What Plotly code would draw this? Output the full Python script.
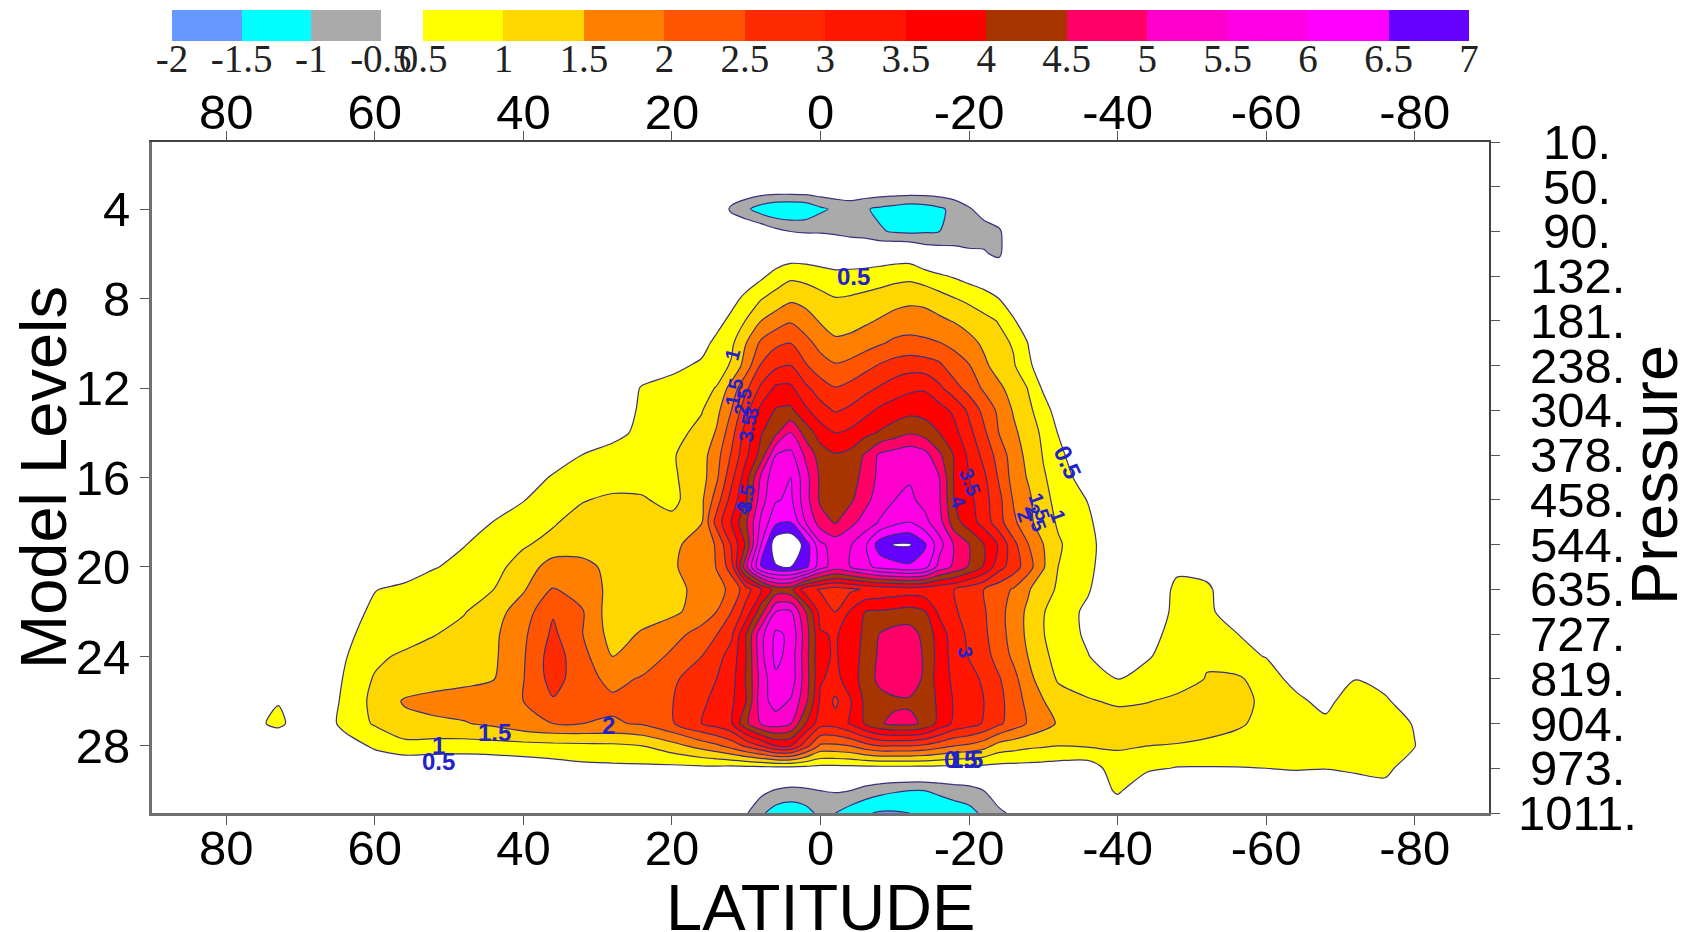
import plotly.graph_objects as go

# ---- data ----
latitudes = [90,76,73,68,64,60,56,52,48,44,40,36,32,28,24,20,
             16,14,12,10,8,6,4,2,0,
             -2,-4,-6,-8,-10,-12,-14,-16,-18,-20,-22,-24,-26,-28,-30,-32,
             -36,-40,-44,-48,-52,-56,-60,-64,-68,-72,-76,-80,-84,-90]
model_levels = list(range(1, 32))
N = len(latitudes)

Z16 = [0]*16; Z14 = [0]*14
L01 = [0]*N
L02 = [0]*N
L03 = [0]*N
L04 = Z16+[0,0,-.6,-.9,-1.25,-1.45,-1.48,-1.4,-1.1]+[-.9,-.8,-.95,-1.1,-1.2,-1.3,-1.25,-1.1,-.85,-.55,-.3,0,0,0,0,0]+Z14
L05 = Z16+[0,0,0,0,-.1,-.35,-.5,-.55,-.55]+[-.6,-.7,-.75,-.95,-1.05,-1.1,-1.05,-1.0,-.85,-.8,-.7,-.6,0,0,0,0]+Z14
L06 = Z16+[0,0,0,0,0,.1,.2,.2,.15]+[.1,.1,.1,.15,.2,.2,-.1,-.2,-.3,-.4,-.45,-.6,0,0,0,0]+Z14
L07 = Z16+[0,0,0,.15,.4,.7,.9,.85,.75]+[.66,.68,.72,.78,.85,.88,.75,.58,.45,.3,.2,0,0,0,0,0]+Z14
L08 = Z16+[0,0,.3,.65,.97,1.2,1.4,1.3,1.15]+[1.02,1.05,1.12,1.2,1.3,1.38,1.35,1.2,1.02,.88,.7,.5,.2,0,0,0]+Z14
L09 = Z16+[0,.3,.65,1.03,1.5,1.75,1.95,1.75,1.45]+[1.28,1.32,1.42,1.55,1.7,1.75,1.72,1.6,1.47,1.32,1.15,.97,.55,.2,0,0]+Z14
L10 = Z16+[.3,.65,.9,1.5,2.1,2.4,2.5,2.15,1.85]+[1.6,1.65,1.8,1.95,2.1,2.15,2.1,2.02,1.9,1.65,1.42,1.15,.95,.48,.15,0]+Z14
L11 = [0]*14+[.15,.35]+[.6,.8,1.05,1.75,2.55,2.9,3.0,2.55,2.2]+[2.05,2.15,2.35,2.55,2.72,2.8,2.75,2.6,2.2,2.03,1.6,1.3,1.05,.6,.2,0]+Z14
L12 = [0]*14+[.55,.72]+[.88,1.02,1.7,2.4,3.1,3.6,3.6,3.1,2.75]+[2.52,2.65,2.85,3.05,3.25,3.4,3.45,3.1,2.7,2.3,1.92,1.6,1.3,.97,.42,.1]+Z14
L13 = [0]*13+[.2,.58,.75]+[.97,1.35,2.0,2.85,3.65,4.05,4.1,3.6,3.2]+[2.95,3.1,3.35,3.6,3.75,3.85,3.8,3.7,3.4,2.9,2.35,1.9,1.45,1.1,.75,.25]+Z14
L14 = [0]*13+[.35,.62,.82]+[1.15,1.55,2.3,3.25,3.95,4.4,5.0,4.3,3.75]+[3.5,3.6,3.85,4.05,4.25,4.45,4.3,4.0,3.65,3.15,2.6,2.0,1.6,1.25,.9,.48]+Z14
L15 = [0]*12+[.52,.68,.82,.95]+[1.3,1.8,2.55,3.4,4.2,5.5,5.65,4.9,4.25]+[4.05,4.15,4.55,5.1,5.25,5.35,5.2,4.6,3.95,3.4,2.85,2.3,1.75,1.35,.97,.65]+Z14
L16 = [0]*11+[.6,.7,.75,.82,.92]+[1.3,1.9,2.85,3.8,5.1,5.9,6.0,5.2,4.4]+[4.15,4.3,4.65,5.15,5.3,5.45,5.3,5.0,3.95,3.5,3.1,2.45,1.8,1.45,1.05,.8]+[.2]+[0]*13
L17 = [0]*10+[.48,.75,.97,1.1,1.05,.85]+[1.4,2.25,3.2,3.95,5.3,5.95,6.1,5.2,4.4]+[4.2,4.4,4.85,5.25,5.5,5.6,5.35,5.05,4.0,3.65,3.2,2.65,1.95,1.6,1.15,.85]+[.48]+[0]*13
L18 = [0]*8+[.2,.52,.7,.95,1.2,1.28,1.25,1.15]+[1.48,2.7,3.55,4.45,5.6,6.4,6.5,5.5,4.75]+[4.45,4.85,5.2,5.55,5.85,6.0,5.65,5.2,4.2,3.75,3.3,2.7,2.1,1.65,1.2,.95]+[.6]+[0]*13
L19 = [0]*7+[.25,.48,.7,.95,1.15,1.35,1.4,1.35,1.4]+[1.7,2.05,3.05,4.1,6.0,7.4,7.5,6.8,5.6]+[5.3,5.45,5.9,6.8,7.05,7.05,6.6,5.7,4.95,4.5,4.0,3.45,2.65,2.0,1.5,1.05]+[.7]+[0]*13
L20 = [0]*6+[.2,.47,.65,.85,1.2,1.75,1.6,1.4,1.35,1.45]+[1.7,2.02,2.75,4.9,6.55,6.95,7.0,6.65,5.7]+[5.25,5.5,5.85,6.15,6.3,6.4,6.2,5.3,4.9,4.45,3.95,3.2,2.75,2.2,1.55,1.0]+[.65,0,0,.4,.3]+[0]*9
L21 = [0]*4+[.2,.48,.62,.78,.9,1.0,1.45,2.03,1.8,1.35,1.35,1.4]+[1.6,1.85,2.1,2.8,3.45,4.2,4.15,3.2,2.95]+[2.8,2.9,3.05,3.15,3.2,3.25,3.2,3.1,3.0,2.75,2.5,2.2,1.95,1.55,1.15,.95]+[.55,0,.05,.62,.6,.1]+[0]*8
L22 = [0]*4+[.25,.62,.72,.82,.97,1.3,1.75,2.45,2.03,1.2,1.3,1.4]+[1.7,2.0,2.5,3.2,4.3,5.5,5.55,4.5,3.3]+[3.0,3.55,4.0,4.05,4.12,4.18,4.05,3.4,3.05,2.85,2.55,2.2,1.75,1.4,1.03,.75]+[.4,0,.1,.65,.62,.2]+[0]*8
L23 = [0]*4+[.42,.65,.75,.98,1.15,1.4,1.9,2.6,2.0,1.3,1.55,1.8]+[2.2,2.48,2.9,4.0,5.35,6.1,5.9,4.75,3.55]+[3.45,3.7,4.1,4.52,4.7,4.72,4.35,3.75,3.25,2.9,2.6,2.2,1.8,1.38,1.02,.75]+[.42,0,.3,.7,.78,.52,.1]+[0]*7
L24 = [0]*4+[.47,.88,1.1,1.2,1.3,1.42,1.95,2.75,2.15,1.5,1.7,2.1]+[2.5,2.82,3.2,4.0,5.35,6.15,5.8,4.7,3.6]+[3.45,3.75,4.15,4.6,4.85,4.9,4.42,3.8,3.3,2.97,2.7,2.3,1.9,1.48,1.1,.85]+[.52,.2,.45,.75,.95,.65,.48]+[0]*7
L25 = [0]*4+[.55,1.05,1.2,1.3,1.38,1.48,1.98,2.7,2.2,1.85,2.05,2.4]+[2.8,3.0,3.3,4.05,5.2,5.9,5.8,4.75,3.55]+[3.35,3.75,4.2,4.65,4.85,4.85,4.4,3.75,3.4,3.2,2.9,2.55,2.15,1.65,1.25,.95]+[.75,.48,.7,.8,1.02,1.08,.78,.3,0,.48,.2,0,0,0]
L26 = [0,.25,.47,.1,.6,1.15,1.55,1.65,1.7,1.8,2.0,2.45,2.25,2.1,2.35,2.48]+[2.9,3.15,3.4,4.0,5.3,5.7,5.45,4.65,3.4]+[2.9,3.45,4.1,4.3,4.4,4.42,4.3,3.9,3.45,3.2,3.0,2.65,2.25,1.85,1.52,1.2]+[1.05,.92,.98,1.1,1.2,1.15,.9,.65,.3,.9,.62,0,0,0]
L27 = [0,.4,.62,0,.7,1.05,1.35,1.42,1.47,1.6,1.85,2.0,2.0,1.95,2.05,2.45]+[3.0,3.2,3.45,4.4,5.05,5.25,5.0,4.0,3.2]+[3.2,3.55,4.05,4.45,4.62,4.62,4.4,3.85,3.4,3.2,2.95,2.6,2.25,1.95,1.7,1.45]+[1.3,1.25,1.25,1.25,1.2,1.08,.85,.7,.65,.95,.85,.45,0,0]
L28 = [0,0,0,0,.2,.6,.85,.8,.78,.8,.82,.85,.88,.9,1.0,1.3]+[1.7,1.9,2.2,2.6,3.0,3.5,3.5,2.7,1.9]+[1.9,2.0,2.3,2.5,2.5,2.5,2.4,2.2,2.0,1.9,1.7,1.3,1.2,1.1,1.05,1.0]+[1.05,1.05,1.0,.97,.9,.8,.8,.75,.75,.75,.72,.52,0,0]
L29 = [0]*9+[.05,.15,.25,.35,.38,.38,.35]+[.35,.35,.3,.3,.3,.3,.3,.3,.3]+[.3]*14+[.28,.25]+[.2,.8,.6,.47,.47,.48,.5,.55,.52,.65,.72,0,0,0]
L30 = Z16+[0,0,0,-.1,-.35,-.55,-.65,-.6,-.5]+[-.45,-.5,-.7,-.85,-.95,-1.0,-1.0,-.9,-.8,-.72,-.5,-.2,0,0,0,0]+[0,.6,0,0,0,0,0,0,0,0,.2,0,0,0]
L31 = Z16+[0,0,0,-.45,-.9,-1.25,-1.35,-1.2,-.85]+[-1.0,-1.25,-1.45,-1.55,-1.55,-1.5,-1.4,-1.35,-1.25,-1.15,-.9,-.6,-.4,0,0,0]+Z14
field = [L01,L02,L03,L04,L05,L06,L07,L08,L09,L10,L11,L12,L13,L14,L15,L16,
         L17,L18,L19,L20,L21,L22,L23,L24,L25,L26,L27,L28,L29,L30,L31]
for i, r in enumerate(field):
    assert len(r) == N, (i + 1, len(r))
field_neg = [[-v for v in r] for r in field]

lat_ticks = [80,60,40,20,0,-20,-40,-60,-80]
level_ticks = [4,8,12,16,20,24,28]
pressure_levels = list(range(1, 32, 2))
pressure_labels = ["10.","50.","90.","132.","181.","238.","304.","378.","458.","544.",
                   "635.","727.","819.","904.","973.","1011."]
neg_levels = [-2,-1.5,-1,-0.5]
neg_labels = ["-2","-1.5","-1","-0.5"]
neg_colors = ["#6699ff","#00ffff","#aaaaaa"]
pos_levels = [0.5,1,1.5,2,2.5,3,3.5,4,4.5,5,5.5,6,6.5,7]
pos_labels = ["0.5","1","1.5","2","2.5","3","3.5","4","4.5","5","5.5","6","6.5","7"]
pos_colors = ["#ffff00","#ffd700","#ff8000","#ff5500","#ff2b00","#ff1500","#ff0000",
              "#a83400","#ff0066","#ff00cc","#ff00e6","#ff00ff","#6600ff"]
# contour labels: text, latitude, level, angle
label_text = ["0.5","1","1.5","2.5","3","3.5","3.5","4","3.5","4","1.5","2","1","2.5","0.5","3","2","1.5","1","0.5","0.5","1.5"]
label_lat  = [-4.5,11.8,11.7,10.4,9.4,9.8,10.1,10.5,-20.1,-18.5,-29.5,-27.6,-32,-29,-33.2,-19.5,28.6,43.9,51.4,51.4,-18.9,-19.6]
label_lev  = [7,10.5,12.2,12.6,13.1,13.8,16.9,17.4,16.2,17.1,17.3,17.7,17.7,17.8,15.3,23.8,27.1,27.4,28,28.7,28.6,28.6]
label_ang  = [0,-75,-80,-80,-80,-80,-80,-80,70,70,70,70,70,70,65,80,0,0,0,0,0,0]

W, H = 1688, 932
BOX = (152, 1489, 142, 813)
def px(x): return x / W
def py(y): return 1 - y / H
AXC = "#555555"; THICK = "#707070"; LINE = "#3a3080"; BLUE = "#2222cc"
SANS = "Liberation Sans"; SERIF = "Liberation Serif"

def stepped(cols):
    n = len(cols) - 1
    return [[i / n, c] for i, c in enumerate(cols)]

fig = go.Figure()
fig.add_trace(go.Contour(
    x=latitudes, y=model_levels, z=field, showscale=False, hoverinfo="skip",
    autocontour=False,
    contours=dict(start=0.5, end=7, size=0.5, coloring="fill", showlines=True),
    colorscale=stepped(["#ffffff"] + pos_colors + ["#ffffff"]),
    line=dict(color=LINE, width=1.2, smoothing=0.8)))
fig.add_trace(go.Contour(
    x=latitudes, y=model_levels, z=field_neg, showscale=False, hoverinfo="skip",
    autocontour=False,
    contours=dict(start=0.5, end=2, size=0.5, coloring="fill", showlines=True),
    colorscale=stepped(["rgba(255,255,255,0)", neg_colors[2], neg_colors[1], neg_colors[0], neg_colors[0]]),
    line=dict(color=LINE, width=1.2, smoothing=0.8)))
fig.add_trace(go.Scatter(x=[0], y=[1], xaxis="x2", yaxis="y2", mode="markers",
                         marker=dict(opacity=0), hoverinfo="skip", showlegend=False))
fig.add_trace(go.Heatmap(x=neg_levels, y=[0, 1], z=[list(range(len(neg_colors)))],
                         xaxis="x3", yaxis="y3", showscale=False, hoverinfo="skip",
                         colorscale=stepped(neg_colors), zmin=0, zmax=len(neg_colors)-1))
fig.add_trace(go.Heatmap(x=pos_levels, y=[0, 1], z=[list(range(len(pos_colors)))],
                         xaxis="x4", yaxis="y3", showscale=False, hoverinfo="skip",
                         colorscale=stepped(pos_colors), zmin=0, zmax=len(pos_colors)-1))

tick_font = dict(family=SANS, size=49, color="#000")
bar_font = dict(family=SERIF, size=39, color="#222")
title_font = dict(family=SANS, size=65, color="#000")
dom_x = [px(BOX[0]), px(BOX[1])]
dom_y = [py(BOX[3]), py(BOX[2])]
common = dict(showline=True, ticks="outside", ticklen=9, tickcolor=AXC,
              showgrid=False, zeroline=False, tickfont=tick_font)
thick = dict(linecolor=THICK, linewidth=3)
thin = dict(linecolor="#444444", linewidth=1.5)

ann = []
for lev, txt in zip(pressure_levels, pressure_labels):
    ann.append(dict(x=px(1577), xref="paper", y=lev, yref="y", text=txt, showarrow=False,
                    xanchor="center", yanchor="middle", font=tick_font))
for t, la, le, an in zip(label_text, label_lat, label_lev, label_ang):
    size = 24 if an == 0 or an == 65 else 20
    ann.append(dict(x=la, y=le, xref="x", yref="y", text=f"<b>{t}</b>", textangle=an,
                    showarrow=False, font=dict(family=SANS, size=size, color=BLUE)))
ann.append(dict(x=px(820), y=py(907), xref="paper", yref="paper", text="LATITUDE", showarrow=False,
                xanchor="center", yanchor="middle", font=title_font))
ann.append(dict(x=px(43), y=py(478), xref="paper", yref="paper", text="Model Levels", textangle=-90,
                showarrow=False, xanchor="center", yanchor="middle", font=title_font))
ann.append(dict(x=px(1654), y=py(475), xref="paper", yref="paper", text="Pressure", textangle=-90,
                showarrow=False, xanchor="center", yanchor="middle", font=title_font))

fig.update_layout(
    width=W, height=H, margin=dict(l=0, r=0, t=0, b=0, autoexpand=False),
    paper_bgcolor="#ffffff", plot_bgcolor="#ffffff", showlegend=False, annotations=ann,
    xaxis=dict(domain=dom_x, range=[90, -90], tickmode="array", tickvals=lat_ticks,
               ticktext=[str(v) for v in lat_ticks], side="bottom", anchor="y",
               ticklabelstandoff=-19, **thick, **common),
    xaxis2=dict(domain=dom_x, range=[90, -90], tickmode="array", tickvals=lat_ticks,
                ticktext=[str(v) for v in lat_ticks], side="top", overlaying="x", anchor="y",
                ticklabelstandoff=-17, **thin, **common),
    yaxis=dict(domain=dom_y, range=[31, 1], tickmode="array", tickvals=level_ticks,
               ticktext=[str(v) for v in level_ticks], side="left", anchor="x", **thick, **common),
    yaxis2=dict(domain=dom_y, range=[31, 1], tickmode="array", tickvals=pressure_levels,
                showticklabels=False, side="right", overlaying="y", anchor="x", **thin, **common),
    xaxis3=dict(domain=[px(172), px(381)], range=[-2, -0.5], tickmode="array", tickvals=neg_levels,
                ticktext=neg_labels, tickangle=0, ticks="", anchor="y3", showgrid=False,
                ticklabelstandoff=-9, zeroline=False, tickfont=bar_font, showline=False),
    xaxis4=dict(domain=[px(423), px(1469)], range=[0.5, 7], tickmode="array", tickvals=pos_levels,
                ticktext=pos_labels, tickangle=0, ticks="", anchor="y3", showgrid=False,
                ticklabelstandoff=-9, zeroline=False, tickfont=bar_font, showline=False),
    yaxis3=dict(domain=[py(41), py(10)], range=[0, 1], showticklabels=False, ticks="",
                showgrid=False, zeroline=False, showline=False, anchor="x3"),
)

fig.write_html("out.html", config={"displayModeBar": False},
               post_script="document.body.style.margin='0';")
